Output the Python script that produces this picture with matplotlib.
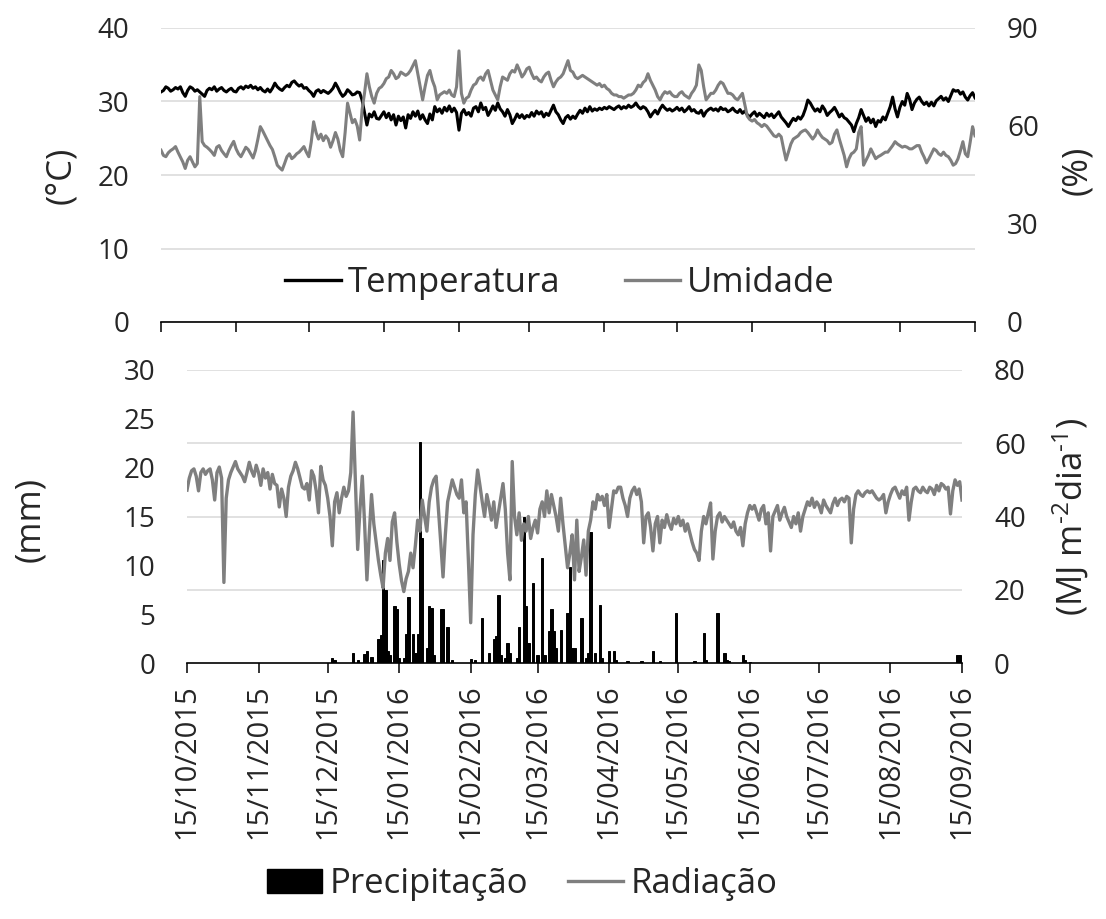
import numpy as np
import pandas as pd
import matplotlib
matplotlib.use("Agg")
import matplotlib.pyplot as plt
import matplotlib.dates as mdates
from matplotlib.lines import Line2D
from matplotlib.patches import Patch

plt.rcParams['font.family'] = ['Open Sans', 'DejaVu Sans']
plt.rcParams['mathtext.fontset'] = 'custom'
plt.rcParams['mathtext.rm'] = 'Open Sans'
plt.rcParams['mathtext.it'] = 'Open Sans'

# ---------------- data ----------------
start_date = "2015-10-15"
n_days = 337

temperatura = [
    31.3, 31.5, 32.0, 31.8, 31.4, 31.6, 31.9, 31.7, 32.0, 31.2,
    30.7, 31.5, 32.0, 31.8, 31.4, 31.6, 31.3, 31.0, 30.7, 31.5,
    31.8, 31.6, 32.0, 31.4, 31.7, 31.9, 31.5, 31.3, 31.6, 31.8,
    31.4, 31.3, 31.8, 32.0, 31.7, 32.1, 31.9, 32.2, 31.8, 32.0,
    31.6, 31.9, 31.5, 31.3, 31.7, 31.3, 31.8, 32.5, 32.0, 31.7,
    31.5, 31.9, 32.2, 32.0, 32.6, 32.8, 32.4, 32.1, 32.3, 31.8,
    31.9, 31.5, 31.2, 30.7, 31.4, 31.6, 31.2, 31.5, 31.3, 31.1,
    31.4, 31.8, 32.5, 31.9, 31.2, 30.7, 31.0, 31.6, 31.3, 30.9,
    31.0, 31.3, 31.2, 30.2, 28.5, 26.8, 28.3, 27.9, 28.6, 27.7,
    27.6, 28.1, 28.6, 27.8, 28.4, 27.5, 28.2, 26.8, 28.0, 27.4,
    27.9, 26.4, 28.2, 27.7, 28.6, 28.0, 28.7, 27.6, 28.2, 27.5,
    27.0, 28.3, 27.5, 29.3, 28.6, 29.0, 28.4, 29.2, 28.7, 29.4,
    28.6, 29.1, 28.5, 26.1, 28.4, 28.9, 28.2, 28.5, 28.0, 29.1,
    29.3, 28.6, 29.8, 28.9, 29.2, 28.1, 28.7, 29.4, 28.8, 29.8,
    29.0, 28.6, 28.0, 28.9, 28.2, 27.0, 27.6, 28.3, 27.8, 28.2,
    27.7, 28.1, 27.9, 28.5, 28.0, 28.7, 28.3, 28.6, 27.9, 28.4,
    28.1, 28.8, 29.5, 28.6, 28.2, 27.5, 27.0, 27.8, 28.1, 27.6,
    28.0, 27.7, 28.3, 28.8, 28.4, 29.1, 28.6, 29.3, 28.7, 29.0,
    28.8, 29.1, 28.9, 29.2, 29.0, 29.3, 29.1, 28.9, 29.2, 29.4,
    29.0, 29.3, 29.1, 29.5, 29.2, 29.4, 29.8, 29.3, 29.0, 29.3,
    29.1, 28.6, 27.9, 28.4, 28.8, 28.3, 29.0, 29.5, 29.1, 28.8,
    29.0, 28.7, 28.9, 29.2, 28.8, 29.1, 28.6, 28.9, 29.3, 28.7,
    28.9, 28.5, 28.4, 28.8, 28.0, 28.6, 28.9, 29.1, 28.8, 29.0,
    28.7, 29.2, 28.9, 29.0, 28.6, 28.8, 29.1, 28.7, 28.5, 28.9,
    28.4, 28.7, 28.2, 27.9, 28.3, 28.6, 28.0, 28.4, 28.1, 27.8,
    28.4, 28.0, 28.3, 27.8, 28.2, 28.6, 27.9, 27.5, 27.1, 26.6,
    27.2, 27.7, 27.4, 27.9, 27.6, 28.1, 29.0, 30.2, 29.8, 29.2,
    28.7, 29.0, 28.6, 29.4, 28.9, 28.1, 28.5, 28.8, 29.2, 28.6,
    27.9, 28.3, 27.8, 27.6, 27.2, 26.8, 25.9, 27.0, 27.8, 28.9,
    28.1, 27.3, 27.8, 27.1, 27.6, 26.6, 27.4, 27.2, 27.9, 27.5,
    28.4, 29.3, 30.6, 29.0, 27.9, 29.2, 30.0, 29.5, 31.1, 30.3,
    28.9, 29.8, 30.3, 30.6, 30.0, 29.6, 29.9, 29.4, 29.9, 29.4,
    30.1, 30.4, 30.7, 30.2, 30.5, 30.0, 30.8, 31.6, 31.4, 31.5,
    31.0, 31.3, 30.6, 30.2, 30.8, 31.2, 30.5,
]

umidade = [
    52.6, 51.0, 50.6, 51.8, 52.5, 53.0, 53.7, 52.0, 50.5, 49.0,
    47.0, 49.5, 50.6, 49.0, 47.5, 48.5, 69.0, 55.2, 54.0, 53.5,
    52.8, 52.0, 51.0, 53.5, 54.0, 52.5, 51.5, 50.6, 52.5, 54.0,
    55.3, 53.0, 51.5, 50.6, 52.0, 53.5, 52.8, 51.5, 50.2, 52.5,
    56.0, 59.8, 58.5, 57.0, 55.5, 54.0, 52.8, 50.5, 48.0, 47.2,
    46.5, 48.5, 50.6, 51.5, 50.0, 50.6, 51.5, 52.0, 52.8, 53.7,
    52.0, 50.6, 55.0, 61.3, 58.0, 56.0, 57.5, 55.5, 57.0, 56.0,
    53.5, 55.5, 58.0, 56.0, 52.5, 50.6, 58.0, 67.0, 64.0, 61.0,
    62.0, 60.0, 55.7, 65.0, 70.0, 76.0, 72.0, 69.0, 67.0, 70.0,
    71.5, 72.0, 73.0, 74.5, 75.0, 77.0, 76.0, 74.5, 75.0, 76.5,
    76.0, 75.5, 76.0, 77.0, 78.5, 80.0, 76.0, 72.0, 68.0, 72.0,
    75.5, 77.0, 74.0, 72.0, 68.0, 69.5, 70.0, 70.5, 70.0, 71.0,
    69.5, 69.0, 72.0, 83.0, 70.0, 67.0, 68.5, 69.0, 71.0, 72.5,
    73.0, 74.5, 75.0, 74.0, 76.0, 77.0, 74.0, 71.0, 69.5, 68.0,
    72.0, 75.0, 74.5, 74.0, 76.0, 77.0, 76.5, 78.7, 77.0, 75.0,
    76.0, 77.5, 78.0, 76.0, 74.5, 75.0, 74.0, 73.5, 75.0, 76.0,
    76.5, 74.0, 72.0, 73.5, 74.5, 75.0, 76.0, 78.0, 80.0, 77.0,
    76.5, 75.0, 74.5, 75.0, 75.5, 75.0, 74.5, 74.0, 73.5, 73.0,
    72.5, 73.0, 72.0, 72.5, 71.5, 71.0, 70.0, 69.5, 69.5, 69.0,
    69.0, 68.5, 69.0, 69.5, 69.5, 70.0, 71.0, 72.5, 72.0, 73.3,
    74.0, 76.0, 74.0, 72.5, 71.0, 69.0, 68.0, 69.5, 70.5, 70.0,
    70.5, 69.5, 69.0, 69.0, 70.0, 70.5, 69.5, 69.0, 68.5, 70.0,
    71.0, 72.5, 78.7, 77.0, 72.0, 68.0, 69.0, 70.0, 70.0, 71.0,
    72.5, 73.5, 73.0, 71.5, 70.0, 70.0, 69.5, 68.5, 68.0, 69.0,
    70.0, 66.5, 63.0, 62.0, 61.5, 62.0, 61.0, 60.5, 59.8, 60.5,
    60.0, 59.0, 58.0, 57.0, 56.7, 57.5, 56.7, 53.0, 49.6, 52.0,
    54.5, 56.0, 56.5, 57.0, 58.0, 58.5, 58.8, 58.0, 57.0, 56.0,
    57.0, 58.8, 57.5, 56.5, 56.0, 55.5, 54.5, 55.0, 57.5, 58.8,
    56.0, 53.5, 51.0, 47.5, 50.0, 51.5, 52.0, 53.0, 58.0, 59.8,
    48.0, 49.5, 51.0, 53.0, 51.5, 50.0, 50.6, 51.0, 51.5, 52.0,
    52.0, 53.0, 54.0, 55.2, 54.5, 54.0, 53.5, 53.8, 53.5, 53.0,
    53.0, 53.5, 54.0, 54.0, 52.0, 50.5, 48.7, 50.0, 51.5, 53.0,
    52.5, 51.5, 51.0, 52.0, 51.0, 50.6, 49.5, 48.0, 48.5, 50.0,
    52.5, 55.2, 51.5, 50.6, 55.0, 59.8, 57.0,
]

radiacao = [
    47.2, 50.5, 52.5, 53.0, 51.0, 47.0, 52.0, 53.0, 51.5, 52.5,
    53.0, 50.0, 44.5, 52.0, 53.5, 50.5, 22.0, 45.0, 50.0, 52.0,
    53.5, 55.0, 53.0, 52.0, 51.0, 49.5, 52.0, 54.8, 52.5, 51.0,
    54.0, 52.0, 48.5, 53.0, 50.5, 52.0, 47.5, 51.5, 49.0, 48.5,
    42.6, 47.5, 45.0, 40.0, 48.0, 51.0, 52.5, 54.8, 53.0, 50.5,
    48.0, 47.5, 49.0, 44.5, 52.5, 51.0, 47.0, 41.0, 53.7, 50.0,
    48.5, 45.0, 40.0, 32.0, 44.0, 46.5, 41.0, 45.0, 48.0, 45.5,
    47.0, 52.0, 68.5, 50.0, 31.0, 42.0, 51.0, 38.0, 22.7, 35.0,
    46.0, 38.0, 33.0, 28.0, 24.0, 20.5, 30.0, 34.0, 28.0, 38.5,
    41.0, 33.0, 27.0, 22.5, 19.5, 23.0, 25.0, 30.0, 26.0, 32.0,
    39.0, 36.0, 44.5, 40.0, 36.0, 44.0, 48.0, 50.0, 51.0, 42.0,
    33.0, 23.5, 35.0, 44.0, 47.0, 50.0, 48.0, 46.0, 45.0, 50.0,
    41.0, 44.0, 28.0, 11.0, 35.0, 46.0, 52.7, 48.5, 44.0, 40.0,
    46.0, 43.0, 39.0, 44.0, 37.0, 41.0, 45.0, 49.0, 42.0, 30.0,
    22.7, 55.0, 40.0, 35.0, 41.0, 33.5, 38.0, 36.0, 40.0, 34.0,
    37.0, 39.0, 35.5, 42.0, 44.0, 40.0, 47.0, 41.0, 46.0, 43.0,
    40.0, 36.0, 45.0, 38.0, 32.0, 26.0, 30.0, 35.0, 22.7, 39.0,
    25.0, 29.0, 33.6, 24.0, 36.0, 39.0, 44.0, 42.0, 46.0, 44.5,
    45.5, 43.0, 46.0, 37.0, 42.0, 47.0, 46.5, 48.0, 48.0, 45.0,
    43.0, 40.0, 45.0, 47.0, 48.0, 46.0, 47.5, 44.0, 32.8, 40.0,
    41.0, 37.0, 30.6, 38.0, 40.0, 32.8, 39.0, 37.0, 40.5, 38.0,
    36.5, 39.5, 38.0, 40.0, 37.5, 39.0, 36.0, 38.0, 35.5, 33.0,
    31.0, 30.0, 28.0, 36.0, 40.0, 38.0, 41.0, 43.7, 28.4, 36.0,
    40.0, 41.0, 38.5, 40.0, 39.0, 38.0, 37.0, 38.5, 36.0, 35.0,
    37.0, 32.0, 38.0, 41.0, 43.0, 42.0, 43.0, 41.0, 39.0, 42.0,
    43.0, 38.0, 41.0, 30.6, 40.0, 41.5, 43.0, 39.0, 41.0, 42.5,
    40.0, 38.5, 37.0, 40.0, 38.0, 41.0, 36.0, 40.0, 42.0, 44.0,
    43.0, 45.0, 42.5, 44.0, 43.0, 41.0, 44.5, 43.0, 42.0, 41.0,
    43.5, 45.0, 43.0, 44.5, 45.0, 44.0, 45.5, 45.0, 32.8, 42.0,
    46.0, 47.0, 46.0, 45.5, 46.5, 47.0, 46.5, 47.0, 46.0, 45.0,
    44.5, 45.0, 46.0, 41.0, 44.0, 46.0, 47.5, 48.0, 46.5, 45.0,
    47.0, 46.0, 48.0, 39.0, 44.0, 47.5, 48.0, 47.0, 46.5, 48.0,
    47.0, 46.5, 48.0, 47.5, 46.0, 48.5, 47.0, 49.0, 48.5, 47.5,
    48.0, 40.7, 47.0, 50.0, 48.5, 49.5, 44.5,
]

# precipitation: day number since start_date and rainfall (mm)
precip_day = [63, 64, 72, 74, 77, 78, 80, 83, 84, 85, 86, 87, 88, 90, 91, 92,
              94, 95, 96, 98, 99, 100, 101, 102, 104, 105, 106, 107, 110, 111,
              113, 115, 123, 125, 128, 131, 133, 134, 135, 136, 138, 139, 140,
              143, 144, 146, 147, 148, 150, 152, 154, 155, 157, 158, 159, 160,
              162, 165, 166, 167, 168, 171, 173, 174, 175, 177, 179, 180, 183,
              185, 186, 191, 197, 202, 205, 212, 220, 224, 225, 230, 233, 234,
              235, 241, 242, 244, 334, 335]
precip_mm = [0.5, 0.3, 1.0, 0.3, 0.9, 1.2, 0.6, 2.5, 2.9, 10.5, 7.5, 1.2, 0.8,
             5.8, 5.5, 0.5, 0.5, 3.0, 6.8, 3.0, 1.0, 3.0, 22.6, 12.8, 1.5, 5.8,
             5.6, 0.8, 5.5, 5.5, 3.7, 0.3, 0.4, 0.3, 4.6, 1.0, 2.5, 2.8, 7.0,
             0.8, 0.5, 2.0, 1.0, 0.5, 3.7, 15.0, 5.8, 2.0, 8.2, 0.8, 10.7, 0.8,
             3.3, 5.5, 3.3, 1.5, 3.4, 5.1, 9.8, 1.5, 1.5, 4.6, 0.5, 1.0, 13.4,
             1.0, 5.9, 0.5, 1.2, 1.2, 0.3, 0.2, 0.2, 1.2, 0.2, 5.1, 0.2, 3.1,
             0.3, 5.1, 1.0, 0.3, 0.2, 0.8, 0.3, 0.1, 0.8, 0.8]

tick_dates = ["2015-10-15", "2015-11-15", "2015-12-15", "2016-01-15",
              "2016-02-15", "2016-03-15", "2016-04-15", "2016-05-15",
              "2016-06-15", "2016-07-15", "2016-08-15", "2016-09-15"]

temp_ticks = [0, 10, 20, 30, 40]
umid_ticks = [0, 30, 60, 90]
prec_ticks = [0, 5, 10, 15, 20, 25, 30]
rad_ticks = [0, 20, 40, 60, 80]

# ---------------- figure ----------------
W, H = 1106, 919
fig = plt.figure(figsize=(W / 100, H / 100), dpi=100)

dates = pd.date_range(start_date, periods=n_days, freq="D")
xmin, xmax = dates[0], dates[-1]
ticks = pd.to_datetime(tick_dates)
p_dates = pd.Timestamp(start_date) + pd.to_timedelta(precip_day, unit="D")

GRAY = "#7f7f7f"
GRID = "#d9d9d9"
TXT = "#262626"
TICKFS = 20
LABFS = 25


def px_axes(l, r, t, b):
    return [l / W, 1 - b / H, (r - l) / W, (b - t) / H]


def style_pair(ax, axr):
    for a in (ax, axr):
        for s in ("top", "left", "right"):
            a.spines[s].set_visible(False)
        a.tick_params(axis="y", length=0, pad=23, labelsize=TICKFS, colors=TXT)
    axr.spines["bottom"].set_visible(False)
    ax.spines["bottom"].set_color("black")
    ax.spines["bottom"].set_linewidth(1.2)
    ax.set_xlim(xmin, xmax)
    ax.set_xticks(ticks)
    ax.tick_params(axis="x", direction="out", length=7.5, width=1.1,
                   color="black")


# ---- top panel ----
ax1 = fig.add_axes(px_axes(161, 975, 28, 322))
ax1r = ax1.twinx()
style_pair(ax1, ax1r)
ax1.set_ylim(0, 40)
ax1.set_yticks(temp_ticks)
ax1r.set_ylim(0, 90)
ax1r.set_yticks(umid_ticks)
ax1.set_xticklabels([])
ax1.yaxis.grid(True, color=GRID, linewidth=1.1)
ax1.set_axisbelow(True)
ax1.plot(dates, temperatura, color="black", lw=2.2)
ax1r.plot(dates, umidade, color=GRAY, lw=2.2)
ax1r.set_xlim(xmin, xmax)

leg1 = fig.legend(handles=[Line2D([], [], color="black", lw=2.4),
                           Line2D([], [], color=GRAY, lw=2.4)],
                  labels=["Temperatura", "Umidade"], loc="center",
                  bbox_to_anchor=(560 / W, 1 - 283 / H), ncol=2,
                  frameon=False, fontsize=LABFS, handlelength=1.6,
                  handletextpad=0.2, columnspacing=1.85)
for t in leg1.get_texts():
    t.set_color(TXT)

# ---- bottom panel ----
ax2 = fig.add_axes(px_axes(187, 962, 370, 663))
ax2r = ax2.twinx()
style_pair(ax2, ax2r)
ax2.set_ylim(0, prec_ticks[-1])
ax2.set_yticks(prec_ticks)
ax2r.set_ylim(0, rad_ticks[-1])
ax2r.set_yticks(rad_ticks)
for v in rad_ticks[1:]:
    ax2.axhline(v * prec_ticks[-1] / rad_ticks[-1], color=GRID, lw=1.1,
                zorder=0)
ax2.bar(p_dates, precip_mm, width=1.0, color="black", edgecolor="black",
        linewidth=0.7, zorder=2)
ax2r.plot(dates, radiacao, color=GRAY, lw=2.4)
ax2r.set_xlim(xmin, xmax)
ax2.xaxis.set_major_formatter(mdates.DateFormatter("%d/%m/%Y"))
ax2.tick_params(axis="x", labelrotation=90, labelsize=21, pad=8,
                labelcolor=TXT)

leg2 = fig.legend(handles=[Patch(facecolor="black", edgecolor="black"),
                           Line2D([], [], color=GRAY, lw=2.4)],
                  labels=["Precipitação", "Radiação"], loc="center",
                  bbox_to_anchor=(522 / W, 1 - 884 / H), ncol=2,
                  frameon=False, fontsize=LABFS, handlelength=1.6,
                  handletextpad=0.2, columnspacing=1.15)
for t in leg2.get_texts():
    t.set_color(TXT)

# ---- axis titles ----
fig.text(61 / W, 1 - 175 / H, "(°C)", rotation=90, ha="center", va="center",
         fontsize=LABFS, color=TXT)
fig.text(1077 / W, 1 - 170 / H, "(%)", rotation=90, ha="center", va="center",
         fontsize=LABFS, color=TXT)
fig.text(30 / W, 1 - 520 / H, "(mm)", rotation=90, ha="center", va="center",
         fontsize=LABFS, color=TXT)
fig.text(1071 / W, 1 - 517 / H, r"(MJ m$^{\text{-2}}$dia$^{\text{-1}}$)",
         rotation=90, ha="center", va="center", fontsize=LABFS, color=TXT)

fig.savefig("out.png", dpi=100)
